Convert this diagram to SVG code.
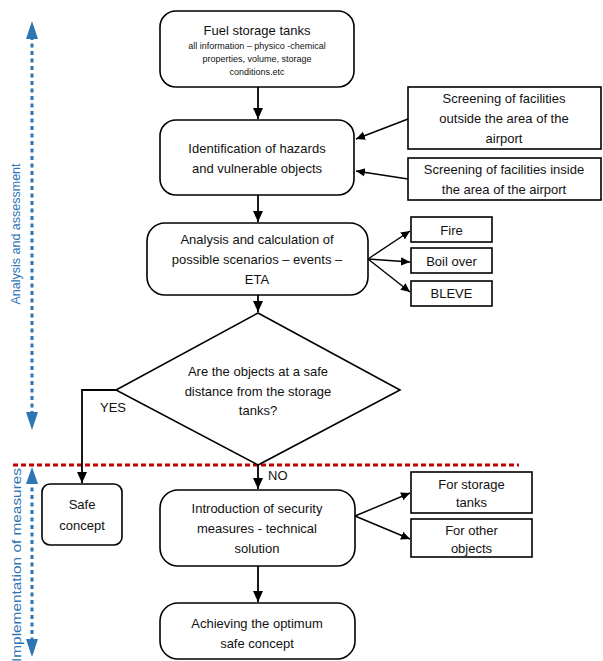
<svg xmlns="http://www.w3.org/2000/svg" width="603" height="661" viewBox="0 0 603 661">
<defs>
<style>
.box{fill:#fff;stroke:#000;stroke-width:1.6}
.t{font-family:"Liberation Sans",Arial,sans-serif;font-size:13px;fill:#111;text-anchor:middle}
.s{font-family:"Liberation Sans",Arial,sans-serif;font-size:9px;fill:#111;text-anchor:middle}
.c{fill:none;stroke:#000;stroke-width:1.4}
.cb{fill:none;stroke:#000;stroke-width:1.8}
.blue{fill:none;stroke:#2E75B6;stroke-width:3;stroke-dasharray:4 3.5}
.red{fill:none;stroke:#C00000;stroke-width:3;stroke-dasharray:5 3}
.bl{font-family:"Liberation Sans",Arial,sans-serif;font-size:12.5px;fill:#2E75B6;text-anchor:middle}
</style>
<marker id="ah" markerWidth="10" markerHeight="10" refX="9" refY="5" orient="auto" markerUnits="userSpaceOnUse">
<path d="M0,0.8 L9,5 L0,9.2 Z" fill="#000"/>
</marker>
<marker id="ahb" markerWidth="12" markerHeight="12" refX="11" refY="6" orient="auto" markerUnits="userSpaceOnUse">
<path d="M0,1 L11,6 L0,11 Z" fill="#000"/>
</marker>
</defs>

<g id="side-labels">
<line class="blue" x1="32" y1="36" x2="32" y2="415"/>
<path d="M26,39 L32,21 L38,39 Z" fill="#2E75B6"/>
<path d="M26,412 L32,430 L38,412 Z" fill="#2E75B6"/>
<text class="bl" transform="translate(20,234) rotate(-90)">Analysis and assessment</text>
<line class="blue" x1="32" y1="480" x2="32" y2="641"/>
<path d="M26,484 L32,467 L38,484 Z" fill="#2E75B6"/>
<path d="M26,639 L32,657 L38,639 Z" fill="#2E75B6"/>
<text class="bl" transform="translate(21,565) rotate(-90)" textLength="194" lengthAdjust="spacingAndGlyphs">Implementation of measures</text>
<line class="red" x1="13" y1="465" x2="519" y2="465"/>
</g>

<g id="connectors">
<line class="cb" x1="258" y1="87" x2="258" y2="119" marker-end="url(#ahb)"/>
<line class="c" x1="408" y1="119" x2="356" y2="139" marker-end="url(#ah)"/>
<line class="c" x1="408" y1="179" x2="356" y2="171" marker-end="url(#ah)"/>
<line class="cb" x1="258" y1="195" x2="258" y2="222" marker-end="url(#ahb)"/>
<line class="c" x1="368" y1="259" x2="410" y2="231" marker-end="url(#ah)"/>
<line class="c" x1="368" y1="259" x2="410" y2="262" marker-end="url(#ah)"/>
<line class="c" x1="368" y1="259" x2="410" y2="292" marker-end="url(#ah)"/>
<line class="cb" x1="258" y1="295" x2="258" y2="312" marker-end="url(#ahb)"/>
<polyline class="cb" points="116,390 82,390 82,483" marker-end="url(#ahb)"/>
<line class="cb" x1="258" y1="465" x2="258" y2="489" marker-end="url(#ahb)"/>
<line class="c" x1="355" y1="516" x2="410" y2="493" marker-end="url(#ah)"/>
<line class="c" x1="355" y1="516" x2="410" y2="539" marker-end="url(#ah)"/>
<line class="cb" x1="258" y1="566" x2="258" y2="602" marker-end="url(#ahb)"/>
<text class="t" x="113" y="412">YES</text>
<text class="t" x="268" y="480" style="text-anchor:start">NO</text>
</g>

<g id="fuel-tanks">
<rect class="box" x="160" y="11" width="194" height="76" rx="16"/>
<text class="t" x="257" y="35">Fuel storage tanks</text>
<text class="s" x="257" y="49">all information – physico -chemical</text>
<text class="s" x="257" y="62">properties,  volume, storage</text>
<text class="s" x="257" y="75">conditions.etc</text>
</g>

<g id="identification">
<rect class="box" x="160" y="120" width="194" height="75" rx="16"/>
<text class="t" x="257" y="153">Identification of hazards</text>
<text class="t" x="257" y="173">and vulnerable objects</text>
</g>

<g id="screen-outside">
<rect class="box" x="408" y="87" width="193" height="62"/>
<text class="t" x="504" y="103">Screening of facilities</text>
<text class="t" x="504" y="123">outside the area of the</text>
<text class="t" x="504" y="143">airport</text>
</g>

<g id="screen-inside">
<rect class="box" x="408" y="158" width="193" height="42"/>
<text class="t" x="504" y="174">Screening of facilities inside</text>
<text class="t" x="504" y="194">the area of the airport</text>
</g>

<g id="analysis">
<rect class="box" x="147" y="223" width="221" height="72" rx="18"/>
<text class="t" x="257" y="244">Analysis and calculation of</text>
<text class="t" x="257" y="264">possible scenarios – events –</text>
<text class="t" x="257" y="284">ETA</text>
</g>

<g id="fire">
<rect class="box" x="411" y="217" width="81" height="25"/>
<text class="t" x="451.5" y="234.5">Fire</text>
</g>
<g id="boil-over">
<rect class="box" x="411" y="248" width="81" height="25"/>
<text class="t" x="451.5" y="265.5">Boil over</text>
</g>
<g id="bleve">
<rect class="box" x="411" y="281" width="81" height="25"/>
<text class="t" x="451.5" y="298">BLEVE</text>
</g>

<g id="decision">
<polygon class="box" points="258,313 400,390 258,465 116,390"/>
<text class="t" x="258" y="376">Are the objects at a safe</text>
<text class="t" x="258" y="396">distance from the storage</text>
<text class="t" x="258" y="415">tanks?</text>
</g>

<g id="safe-concept">
<rect class="box" x="42" y="484" width="80" height="61" rx="8"/>
<text class="t" x="82" y="509">Safe</text>
<text class="t" x="82" y="530">concept</text>
</g>

<g id="introduction">
<rect class="box" x="160" y="490" width="195" height="76" rx="18"/>
<text class="t" x="257" y="513">Introduction of security</text>
<text class="t" x="257" y="533">measures - technical</text>
<text class="t" x="257" y="553">solution</text>
</g>

<g id="for-tanks">
<rect class="box" x="411" y="472" width="121" height="41"/>
<text class="t" x="471.5" y="489">For storage</text>
<text class="t" x="471.5" y="507">tanks</text>
</g>

<g id="for-objects">
<rect class="box" x="411" y="519" width="121" height="38"/>
<text class="t" x="471.5" y="535">For other</text>
<text class="t" x="471.5" y="553">objects</text>
</g>

<g id="achieving">
<rect class="box" x="160" y="603" width="195" height="56" rx="18"/>
<text class="t" x="257" y="628">Achieving the optimum</text>
<text class="t" x="257" y="648">safe concept</text>
</g>
</svg>
